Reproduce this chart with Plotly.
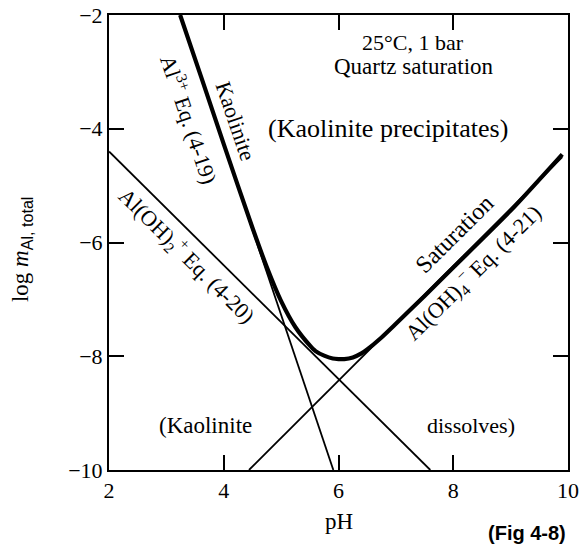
import plotly.graph_objects as go

# --- data ---
x_ticks = [2, 4, 6, 8, 10]
y_ticks = [-10, -8, -6, -4, -2]

al3_ph = [3.24, 5.91]          # Al3+  Eq. (4-19)
al3_log = [-2.0, -10.0]
aloh2_ph = [2.0, 7.6]          # Al(OH)2+  Eq. (4-20)
aloh2_log = [-4.4, -10.0]
aloh4_ph = [4.44, 9.9]         # Al(OH)4-  Eq. (4-21)
aloh4_log = [-10.0, -4.5]

sat_ph = [3.24, 3.6, 4.0, 4.5, 4.75, 5.0, 5.25, 5.5, 5.6, 5.75, 5.9, 6.0,
          6.1, 6.25, 6.4, 6.5, 6.75, 7.0, 7.5, 8.0, 9.0, 9.9]
sat_log = [-2.0, -3.07, -4.27, -5.74, -6.43, -7.03, -7.49, -7.81, -7.91, -7.99,
           -8.04, -8.05, -8.05, -8.02, -7.95, -7.88, -7.67, -7.43, -6.94,
           -6.44, -5.44, -4.45]

SERIF = "Liberation Serif"
FS = 22

fig = go.Figure()
for xs, ys in [(al3_ph, al3_log), (aloh2_ph, aloh2_log), (aloh4_ph, aloh4_log)]:
    fig.add_trace(go.Scatter(x=xs, y=ys, mode="lines",
                             line=dict(color="black", width=1.8),
                             showlegend=False, hoverinfo="skip"))
fig.add_trace(go.Scatter(x=sat_ph, y=sat_log, mode="lines",
                         line=dict(color="black", width=4.2, shape="spline", smoothing=0.6),
                         showlegend=False, hoverinfo="skip"))

def txt(x, y, t, angle=0, size=FS, **kw):
    fig.add_annotation(x=x, y=y, text=t, showarrow=False, textangle=angle,
                       font=dict(family=SERIF, size=size, color="black"),
                       xanchor="center", yanchor="middle", **kw)

txt(7.303, -2.475, "25°C, 1 bar", size=22)
txt(7.32, -2.914, "Quartz saturation", size=23)
txt(6.866, -3.987, "(Kaolinite precipitates)", size=26)
txt(3.675, -9.209, "(Kaolinite", size=23)
txt(8.314, -9.209, "dissolves)", size=22)
txt(4.215, -3.864, "Kaolinite", angle=71.3)
txt(3.413, -3.829, "Al<sup>3+</sup> Eq. (4-19)", angle=71.3)
txt(3.36, -6.22, "Al(OH)<sub>2</sub><sup>+</sup> Eq. (4-20)", angle=44.8)
txt(8.018, -5.85, "Saturation", angle=-44.8, size=24)
txt(8.35, -6.536, "Al(OH)<sub>4</sub><sup>−</sup> Eq. (4-21)", angle=-44.8)

# axis titles
fig.add_annotation(xref="paper", yref="paper", x=0.5, y=-0.114, text="pH",
                   showarrow=False, xanchor="center", yanchor="middle",
                   font=dict(family=SERIF, size=23, color="black"))
fig.add_annotation(xref="paper", yref="paper", x=-0.1895, y=0.4835,
                   text="log <i>m</i><sub><span style='font-family:Liberation Sans'>Al, total</span></sub>",
                   showarrow=False, textangle=-90, xanchor="center", yanchor="middle",
                   font=dict(family=SERIF, size=23, color="black"))
fig.add_annotation(xref="paper", yref="paper", x=1.0, y=-0.138, text="<b>(Fig 4-8)</b>",
                   showarrow=False, xanchor="right", yanchor="middle",
                   font=dict(family="Liberation Sans", size=20, color="black"))

axis_common = dict(showgrid=False, zeroline=False, showline=True, linecolor="black",
                   linewidth=2, mirror="ticks", ticks="inside", ticklen=15,
                   tickwidth=1.6, tickcolor="black", automargin=False,
                   tickfont=dict(family=SERIF, size=FS, color="black"))
fig.update_xaxes(range=[2, 10], tickvals=x_ticks, ticktext=[str(v) for v in x_ticks], **axis_common)
fig.update_yaxes(range=[-10, -2], tickvals=y_ticks, ticktext=["−" + str(-v) for v in y_ticks], **axis_common)

fig.update_layout(width=581, height=548, margin=dict(l=109, r=13, t=15, b=78),
                  plot_bgcolor="white", paper_bgcolor="white")
fig.write_html("out.html")
